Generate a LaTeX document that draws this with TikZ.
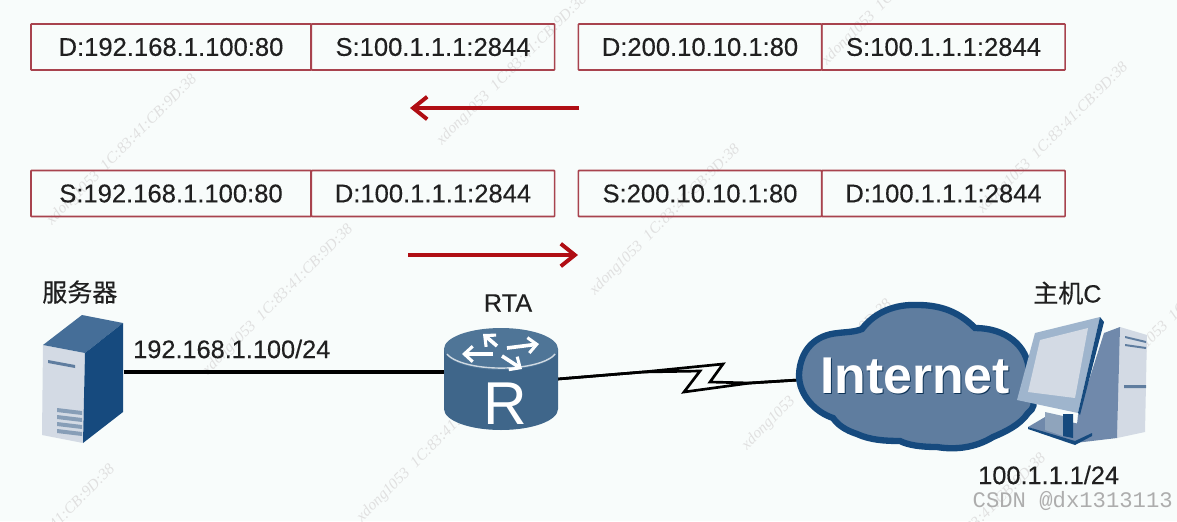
\documentclass[tikz,border=0pt]{standalone}
\usepackage{fontspec}
\setmainfont{Liberation Sans}
\newfontfamily\labelfont[FakeBold=0.3]{Liberation Sans}
\newfontfamily\cjk[FakeBold=0.3]{Noto Sans CJK SC}
\newfontfamily\markfont{Liberation Serif}
\newfontfamily\csdnfont{Liberation Mono}
\usepackage{xcolor}
\usetikzlibrary{arrows.meta,positioning}

\definecolor{pagetint}{HTML}{F8FCFB}
\definecolor{boxred}{HTML}{A8434E}
\definecolor{arrowred}{HTML}{B00E14}
\definecolor{inkdark}{HTML}{202020}
\definecolor{routerblue}{HTML}{3F668A}
\definecolor{routertop}{HTML}{4F7597}
\definecolor{deepblue}{HTML}{164A7E}
\definecolor{slateblue}{HTML}{5F7D9F}
\definecolor{midblue}{HTML}{7089AB}
\definecolor{paleblue}{HTML}{D3DAE4}
\definecolor{bezelblue}{HTML}{9FB5CD}

\tikzset{
	pktbox/.style={draw=boxred,line width=1.2pt,rounded corners=0.5pt,minimum height=1.15cm,inner sep=0pt,text=inkdark,font=\labelfont\fontsize{18.2}{20}\selectfont},
	pktleft/.style={pktbox,minimum width=7cm},
	pktright/.style={pktbox,minimum width=6.08cm},
	flowarrow/.style={arrowred,line width=2.6pt,-{Straight Barb[length=10pt,width=16pt,line width=2.8pt]}},
	netlabel/.style={text=inkdark,inner sep=0pt,font=\labelfont\fontsize{18}{20}\selectfont},
	hiddenbox/.style={inner sep=0pt,outer sep=0pt},
	wanline/.style={black,line width=1.9pt,line join=miter},
	routerarrow/.style={white,line width=2.6pt,-{Straight Barb[length=6pt,width=11pt,line width=2.2pt]}},
	watermark/.style={text=black!12,rotate=45,inner sep=0pt,font=\markfont\itshape\fontsize{11}{12}\selectfont}
}

\begin{document}
\begin{tikzpicture}[x=0.025cm,y=-0.025cm]
	
	\useasboundingbox
	(0,0)
	rectangle
	(1177,521);
	
	\fill[pagetint]
	(0,0)
	rectangle
	(1177,521);
	
	\foreach \mx/\my [count=\n] in {122/150,512/70,897/-10,1053/138,665/220,278/300,817/375,432/447,40/540,1190/300,971/529}
	\node[watermark] (mark\n) at (\mx,\my)
	{xdong1053\ \ 1C:83:41:CB:9D:38};
	
	\node[pktleft] (rowaleft) at (171,47)
	{D:192.168.1.100:80};
	
	\node[pktright] (rowamid) at (433,47)
	{S:100.1.1.1:2844};
	
	\node[pktright] (rowbleft) at (700,47)
	{D:200.10.10.1:80};
	
	\node[pktright] (rowbright) at (943.5,47)
	{S:100.1.1.1:2844};
	
	\node[pktleft] (rowcleft) at (171,193.5)
	{S:192.168.1.100:80};
	
	\node[pktright] (rowcmid) at (433,193.5)
	{D:100.1.1.1:2844};
	
	\node[pktright] (rowdleft) at (700,193.5)
	{S:200.10.10.1:80};
	
	\node[pktright] (rowdright) at (943.5,193.5)
	{D:100.1.1.1:2844};
	
	\coordinate (backstart) at (579,108);
	\coordinate (backend) at (410,108);
	\coordinate (forthstart) at (408,255);
	\coordinate (forthend) at (578,255);
	
	\draw[flowarrow]
	(backstart) -- (backend);
	
	\draw[flowarrow]
	(forthstart) -- (forthend);
	
	\node[hiddenbox,minimum width=2.03cm,minimum height=3.2cm] (server) at (83,372) {};
	\node[hiddenbox,minimum width=2.85cm,minimum height=2.55cm] (router) at (501,379) {};
	\node[hiddenbox,minimum width=5cm,minimum height=3.6cm] (cloud) at (898,380) {};
	
	\draw[black,line width=2.6pt]
	(server.east) -- (server.east -| router.west);
	
	\draw[wanline]
	(router.east) -- (643,372) -- (723,364) -- (710,382) -- (750,383) -- (cloud.west);
	
	\draw[wanline]
	(router.east) -- (643,372) -- (700,371) -- (684,392) -- (750,383) -- (cloud.west);
	
	\fill[paleblue]
	(43,345) -- (85,353) -- (83,443) -- (42,435) -- cycle;
	
	\fill[deepblue!80!white]
	(43,345) -- (82,315) -- (123,323) -- (85,353) -- cycle;
	
	\fill[deepblue]
	(85,353) -- (123,323) -- (123,412) -- (83,443) -- cycle;
	
	\fill[slateblue]
	(48,360) -- (75,365) -- (75,368) -- (48,363) -- cycle;
	
	\foreach \vent in {408,415,422,429}
	\fill[slateblue!75!white]
	(57,\vent) -- (82,\vent+3) -- (82,\vent+7) -- (57,\vent+4) -- cycle;
	
	\fill[routerblue]
	(444,349) -- (444,409)
	arc[start angle=180,end angle=0,x radius=57,y radius=21]
	-- (558,349) -- cycle;
	
	\fill[routertop]
	(501,349) ellipse[x radius=57,y radius=21];
	
	\draw[white!75!routerblue,line width=1pt]
	(447,354)
	arc[start angle=165,end angle=15,x radius=56,y radius=19];
	
	\draw[routerarrow]
	(497,346) -- (483,334);
	
	\draw[routerarrow]
	(507,348) -- (539,344);
	
	\draw[routerarrow]
	(493,354) -- (462,354);
	
	\draw[routerarrow]
	(502,356) -- (522,369);
	
	\node[white,inner sep=0pt,font=\fontsize{43}{45}\selectfont] (routerletter) at (505,404)
	{R};
	
	\fill[slateblue,draw=deepblue,line width=4.5pt]
	(799,375)
	.. controls (800,350) and (815,335) .. (838,333)
	.. controls (846,332) and (855,332) .. (862,329)
	.. controls (875,312) and (895,304) .. (918,305)
	.. controls (945,305) and (962,315) .. (975,328)
	.. controls (1005,328) and (1028,345) .. (1029,372)
	.. controls (1030,390) and (1040,405) .. (1028,413)
	.. controls (1020,425) and (1005,432) .. (993,437)
	.. controls (975,448) and (955,450) .. (937,447)
	.. controls (920,447) and (908,445) .. (900,441)
	.. controls (885,441) and (870,440) .. (857,434)
	.. controls (845,430) and (838,425) .. (833,418)
	.. controls (815,412) and (799,395) .. (799,375)
	-- cycle;
	
	\node[text=deepblue!70!black,inner sep=0pt,font=\bfseries\fontsize{36.8}{38}\selectfont] (cloudshade) at (916,377)
	{Internet};
	
	\node[white,inner sep=0pt,font=\bfseries\fontsize{36.8}{38}\selectfont] (cloudtext) at (915,376)
	{Internet};
	
	\fill[paleblue]
	(1120,327) -- (1147,335) -- (1145,432) -- (1117,438) -- cycle;
	
	\fill[midblue]
	(1104,333) -- (1120,327) -- (1117,438) -- (1075,443) -- (1078,415) -- cycle;
	
	\fill[midblue]
	(1028,427) -- (1045,417) -- (1085,425) -- (1092,435) -- (1075,443) -- cycle;
	
	\fill[deepblue]
	(1028,427) -- (1075,441) -- (1092,433) -- (1092,436) -- (1075,445) -- (1028,429) -- cycle;
	
	\fill[slateblue!70!white]
	(1045,412) -- (1063,416) -- (1063,436) -- (1045,430) -- cycle;
	
	\fill[deepblue]
	(1063,414) -- (1073,414) -- (1073,438) -- (1063,436) -- cycle;
	
	\fill[bezelblue]
	(1100,317) -- (1035,333) -- (1017,400) -- (1078,413) -- cycle;
	
	\fill[deepblue]
	(1100,317) -- (1104,322) -- (1080,415) -- (1078,413) -- cycle;
	
	\fill[paleblue]
	(1088,328) -- (1040,340) -- (1028,392) -- (1075,398) -- cycle;
	
	\fill[slateblue]
	(1125,336) -- (1146,341) -- (1146,343) -- (1125,338) -- cycle
	(1125,344) -- (1146,347) -- (1146,349) -- (1125,346) -- cycle
	(1124,385) -- (1146,385) -- (1146,388) -- (1124,388) -- cycle;
	
	\node[netlabel,font=\cjk\fontsize{17.8}{20}\selectfont,anchor=west] (serverlabel) at (42,292)
	{服务器};
	
	\node[netlabel] (routerlabel) at (508,303)
	{RTA};
	
	\node[netlabel,font=\fontsize{17.8}{20}\selectfont,anchor=west] (hostlabel) at (1033,293)
	{\cjk 主机\labelfont C};
	
	\node[netlabel,anchor=west] (lanlabel) at (133,349)
	{192.168.1.100/24};
	
	\node[netlabel,anchor=west] (wanlabel) at (978,475)
	{100.1.1.1/24};
	
	\node[text=black!32,inner sep=0pt,anchor=east,font=\csdnfont\fontsize{15.8}{18}\selectfont] (csdnlabel) at (1173,501)
	{CSDN @dx1313113};
	
\end{tikzpicture}
\end{document}
